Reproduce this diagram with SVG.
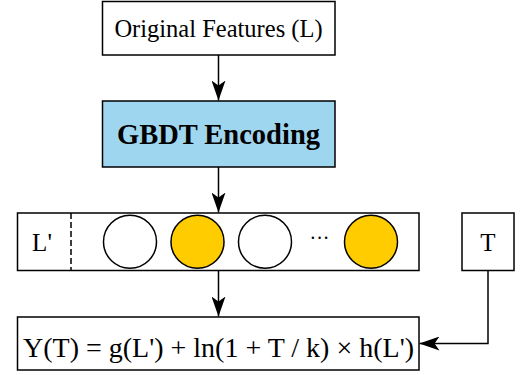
<svg xmlns="http://www.w3.org/2000/svg" width="532" height="375" viewBox="0 0 532 375">
<style>
.box{fill:#fff;stroke:#000;stroke-width:1.5}
.blue{fill:#9fd6ef;stroke:#000;stroke-width:1.5}
.t{font-family:"Liberation Serif",serif;fill:#000;text-anchor:middle}
.edge{fill:none;stroke:#000;stroke-width:1.5}
.c{stroke:#000;stroke-width:1.5}
</style>
<defs>
<marker id="ah" markerUnits="userSpaceOnUse" markerWidth="20" markerHeight="14" refX="20" refY="7" orient="auto">
<path d="M0,0 L20,7 L0,14 L5,7 Z" fill="#000"/>
</marker>
</defs>
<rect width="532" height="375" fill="#fff"/>
<g id="original">
<rect class="box" x="102.5" y="1.5" width="232.5" height="53.5"/>
<text class="t" x="218.5" y="37" font-size="24.5">Original Features (L)</text>
</g>
<g id="gbdt">
<rect class="blue" x="102.5" y="101" width="232.5" height="66"/>
<text class="t" x="218.5" y="144" font-size="28.5" font-weight="bold">GBDT Encoding</text>
</g>
<g id="features">
<rect class="box" x="17.5" y="213" width="401.5" height="57.5"/>
<line x1="71" y1="213" x2="71" y2="270.5" stroke="#000" stroke-width="1.5" stroke-dasharray="6,3"/>
<text class="t" x="42" y="250.5" font-size="25">L'</text>
<circle class="c" cx="130" cy="241.7" r="26.5" fill="#fff"/>
<circle class="c" cx="197.5" cy="241.7" r="26.5" fill="#ffcc00"/>
<circle class="c" cx="265" cy="241.7" r="26.5" fill="#fff"/>
<text class="t" x="319.5" y="245" font-size="20">···</text>
<circle class="c" cx="371" cy="241.7" r="26.5" fill="#ffcc00"/>
</g>
<g id="T">
<rect class="box" x="462" y="213" width="52" height="57.5"/>
<text class="t" x="488" y="250.5" font-size="25">T</text>
</g>
<g id="formula">
<rect class="box" x="17.5" y="317" width="401.5" height="53"/>
<text class="t" x="218.5" y="356.5" font-size="28">Y(T) = g(L') + ln(1 + T / k) × h(L')</text>
</g>
<g id="connectors">
<line class="edge" x1="218.5" y1="55" x2="218.5" y2="100.5" marker-end="url(#ah)"/>
<line class="edge" x1="218.5" y1="167" x2="218.5" y2="212.5" marker-end="url(#ah)"/>
<line class="edge" x1="218.5" y1="270.5" x2="218.5" y2="316.5" marker-end="url(#ah)"/>
<polyline class="edge" points="488,270.5 488,343.5 419.5,343.5" marker-end="url(#ah)"/>
</g>
</svg>
